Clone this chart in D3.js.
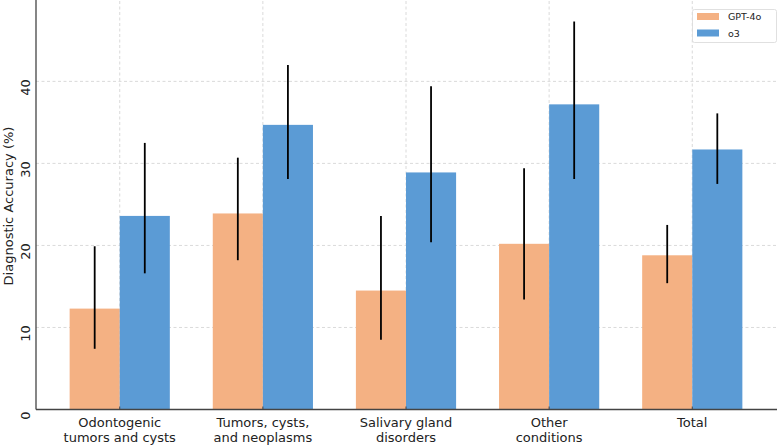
<!DOCTYPE html>
<html>
<head>
<meta charset="utf-8">
<script src="https://cdn.jsdelivr.net/npm/d3@7"></script>
<style>
  html, body { margin: 0; padding: 0; background: #fff; }
  svg { display: block; font-family: "DejaVu Sans", sans-serif; }
</style>
</head>
<body>
<svg id="chart" width="779" height="446"></svg>
<script>
const categories = [
  ["Odontogenic", "tumors and cysts"],
  ["Tumors, cysts,", "and neoplasms"],
  ["Salivary gland", "disorders"],
  ["Other", "conditions"],
  ["Total"]
];
const seriesNames = ["GPT-4o", "o3"];
const gpt4oValues = [12.3, 23.9, 14.5, 20.2, 18.8];
const gpt4oLower  = [7.4, 18.2, 8.5, 13.4, 15.4];
const gpt4oUpper  = [19.9, 30.7, 23.6, 29.4, 22.5];
const o3Values    = [23.6, 34.7, 28.9, 37.2, 31.7];
const o3Lower     = [16.6, 28.1, 20.4, 28.1, 27.5];
const o3Upper     = [32.5, 42.0, 39.4, 47.3, 36.1];
const yTicks = [0, 10, 20, 30, 40];
const yLabel = "Diagnostic Accuracy (%)";
const colors = ["#F4B183", "#5B9BD5"];

const svg = d3.select("#chart");
const mLeft = 36, mRight = 776, mTop = 1, mBottom = 409.5;
const barW = 0.35;

const x = d3.scaleLinear().domain([-0.585, 4.585]).range([mLeft, mRight]);
const y = d3.scaleLinear().domain([0, 49.8]).range([mBottom, mTop]);

const series = [
  { name: seriesNames[0], vals: gpt4oValues, lo: gpt4oLower, hi: gpt4oUpper, off: -barW / 2, color: colors[0] },
  { name: seriesNames[1], vals: o3Values, lo: o3Lower, hi: o3Upper, off: barW / 2, color: colors[1] }
];

// grid
const grid = svg.append("g");
grid.selectAll("line.h").data(yTicks.filter(d => d > 0)).join("line")
  .attr("x1", mLeft).attr("x2", mRight)
  .attr("y1", d => y(d)).attr("y2", d => y(d))
  .attr("stroke", "#d0d0d0").attr("stroke-width", 0.8).attr("stroke-dasharray", "3,2.5");
grid.selectAll("line.v").data(categories.map((c, i) => i)).join("line")
  .attr("x1", d => x(d)).attr("x2", d => x(d))
  .attr("y1", mTop).attr("y2", mBottom)
  .attr("stroke", "#d0d0d0").attr("stroke-width", 0.8).attr("stroke-dasharray", "3,2.5");

// bars
series.forEach(s => {
  svg.append("g").selectAll("rect").data(s.vals).join("rect")
    .attr("x", (d, i) => x(i + s.off - barW / 2))
    .attr("width", (d, i) => x(i + s.off + barW / 2) - x(i + s.off - barW / 2))
    .attr("y", d => y(d))
    .attr("height", d => y(0) - y(d))
    .attr("fill", s.color);
});

// error bars
series.forEach(s => {
  svg.append("g").selectAll("line").data(s.vals).join("line")
    .attr("x1", (d, i) => x(i + s.off)).attr("x2", (d, i) => x(i + s.off))
    .attr("y1", (d, i) => y(s.lo[i])).attr("y2", (d, i) => y(s.hi[i]))
    .attr("stroke", "#000").attr("stroke-width", 1.8);
});

// axes spines
svg.append("line").attr("x1", mLeft).attr("x2", mLeft).attr("y1", mTop - 1).attr("y2", mBottom)
  .attr("stroke", "#444").attr("stroke-width", 1.3);
svg.append("line").attr("x1", mLeft).attr("x2", mRight + 1).attr("y1", mBottom).attr("y2", mBottom)
  .attr("stroke", "#444").attr("stroke-width", 1.3);

// x ticks (small inward marks)
svg.append("g").selectAll("line").data(categories.map((c, i) => i)).join("line")
  .attr("x1", d => x(d)).attr("x2", d => x(d))
  .attr("y1", mBottom).attr("y2", mBottom - 3)
  .attr("stroke", "#444").attr("stroke-width", 1);

// x labels
const xl = svg.append("g").selectAll("text").data(categories).join("text")
  .attr("text-anchor", "middle")
  .attr("font-size", 13)
  .attr("fill", "#222")
  .attr("transform", (d, i) => `translate(${x(i)},0)`);
xl.each(function (d) {
  d3.select(this).selectAll("tspan").data(d).join("tspan")
    .attr("x", 0).attr("y", (t, j) => 427 + j * 15).text(t => t);
});

// y tick labels (rotated)
svg.append("g").selectAll("text").data(yTicks).join("text")
  .attr("transform", d => `translate(30,${y(d) + 6}) rotate(-90)`)
  .attr("text-anchor", "middle")
  .attr("font-size", 13)
  .attr("fill", "#222")
  .text(d => d);

// y label
svg.append("text")
  .attr("transform", `translate(13,206) rotate(-90)`)
  .attr("text-anchor", "middle")
  .attr("font-size", 13)
  .attr("fill", "#222")
  .text(yLabel);

// legend
const lg = svg.append("g");
lg.append("rect").attr("x", 692.5).attr("y", 9.5).attr("width", 84).attr("height", 33)
  .attr("rx", 2).attr("fill", "#fff").attr("fill-opacity", 0.8)
  .attr("stroke", "#d8d8d8").attr("stroke-width", 0.8);
series.forEach((s, i) => {
  lg.append("rect").attr("x", 697).attr("y", 13 + i * 16.5).attr("width", 22).attr("height", 7)
    .attr("fill", s.color);
  lg.append("text").attr("x", 728).attr("y", 20 + i * 16.5)
    .attr("font-size", 9.5).attr("fill", "#222").text(s.name);
});
</script>
</body>
</html>
